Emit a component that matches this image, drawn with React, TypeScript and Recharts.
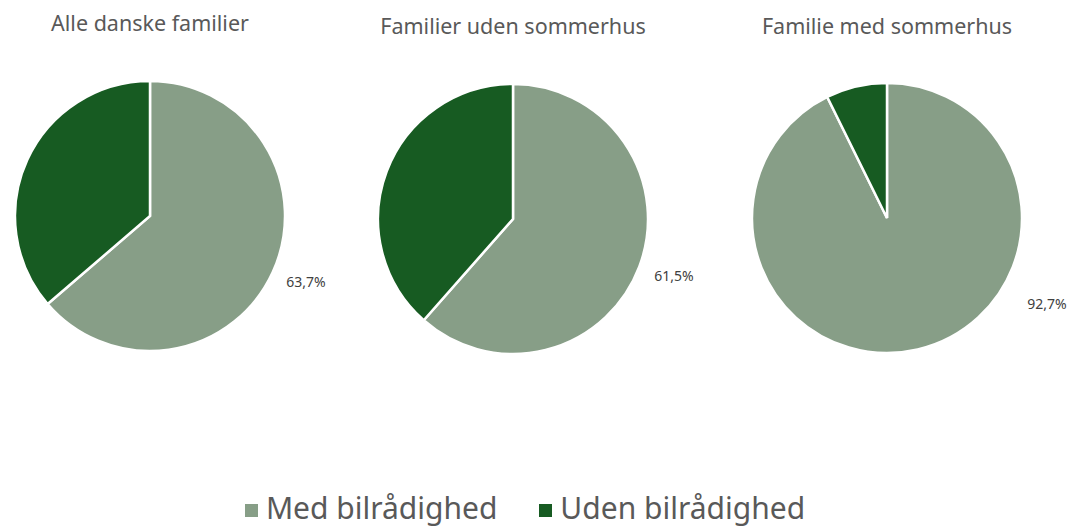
import React from 'react';
import { PieChart, Pie, Cell, Legend } from 'recharts';

const seriesNames = ['Med bilrådighed', 'Uden bilrådighed'];
const colors = ['#879E87', '#175B22'];

const chartTitles = ['Alle danske familier', 'Familier uden sommerhus', 'Familie med sommerhus'];
const allFamilies = [63.7, 36.3];
const withoutSummerHouse = [61.5, 38.5];
const withSummerHouse = [92.7, 7.3];

const toRows = (values: number[]) =>
  values.map((v, i) => ({ name: seriesNames[i], value: v }));

const pies = [
  { title: chartTitles[0], data: toRows(allFamilies), cx: 150, cy: 216, titleTop: 8, labelDx: 21, labelDy: 65 },
  { title: chartTitles[1], data: toRows(withoutSummerHouse), cx: 513, cy: 219, titleTop: 11, labelDx: 26, labelDy: 56 },
  { title: chartTitles[2], data: toRows(withSummerHouse), cx: 887, cy: 218, titleTop: 11, labelDx: 25, labelDy: 85 },
];

const fmt = (v: number) => v.toFixed(1).replace('.', ',') + '%';

const makeLabel = (dx: number, dy: number) => (props: any) => {
  const { cx, cy, outerRadius, index, value } = props;
  if (index !== 0) return null;
  return (
    <text
      x={cx + outerRadius + dx}
      y={cy + dy}
      textAnchor="middle"
      dominantBaseline="central"
      fill="#404040"
      fontSize={14}
    >
      {fmt(value)}
    </text>
  );
};

const LegendContent = () => (
  <div style={{ display: 'flex', justifyContent: 'center', paddingRight: 20 }}>
    {seriesNames.map((n, i) => (
      <div key={n} style={{ display: 'flex', alignItems: 'center', marginLeft: i ? 42 : 0 }}>
        <span style={{ width: 13, height: 13, background: colors[i], marginRight: 8, marginTop: 5 }} />
        <span style={{ fontSize: 30, color: '#595959', lineHeight: '34px' }}>{n}</span>
      </div>
    ))}
  </div>
);

export default function App() {
  return (
    <div style={{ position: 'absolute', top: 0, left: 0, width: 1070, height: 527, background: '#fff', fontFamily: '"Noto Sans", sans-serif' }}>
      <PieChart width={1070} height={527} margin={{ top: 0, right: 0, bottom: 0, left: 0 }}>
        {pies.map((p, k) => (
          <Pie
            key={k}
            data={p.data}
            dataKey="value"
            nameKey="name"
            cx={p.cx}
            cy={p.cy}
            outerRadius={135}
            startAngle={90}
            endAngle={-270}
            stroke="#ffffff"
            strokeWidth={2.5}
            labelLine={false}
            label={makeLabel(p.labelDx, p.labelDy)}
            isAnimationActive={false}
          >
            {p.data.map((d, i) => (
              <Cell key={d.name} fill={colors[i]} />
            ))}
          </Pie>
        ))}
        <Legend
          content={<LegendContent />}
          wrapperStyle={{ position: 'absolute', top: 491, left: 0, width: 1070 }}
        />
      </PieChart>
      {pies.map((p) => (
        <div
          key={p.title}
          style={{
            position: 'absolute',
            top: p.titleTop,
            left: p.cx - 200,
            width: 400,
            textAlign: 'center',
            fontSize: 21.5,
            color: '#595959',
          }}
        >
          {p.title}
        </div>
      ))}
    </div>
  );
}
